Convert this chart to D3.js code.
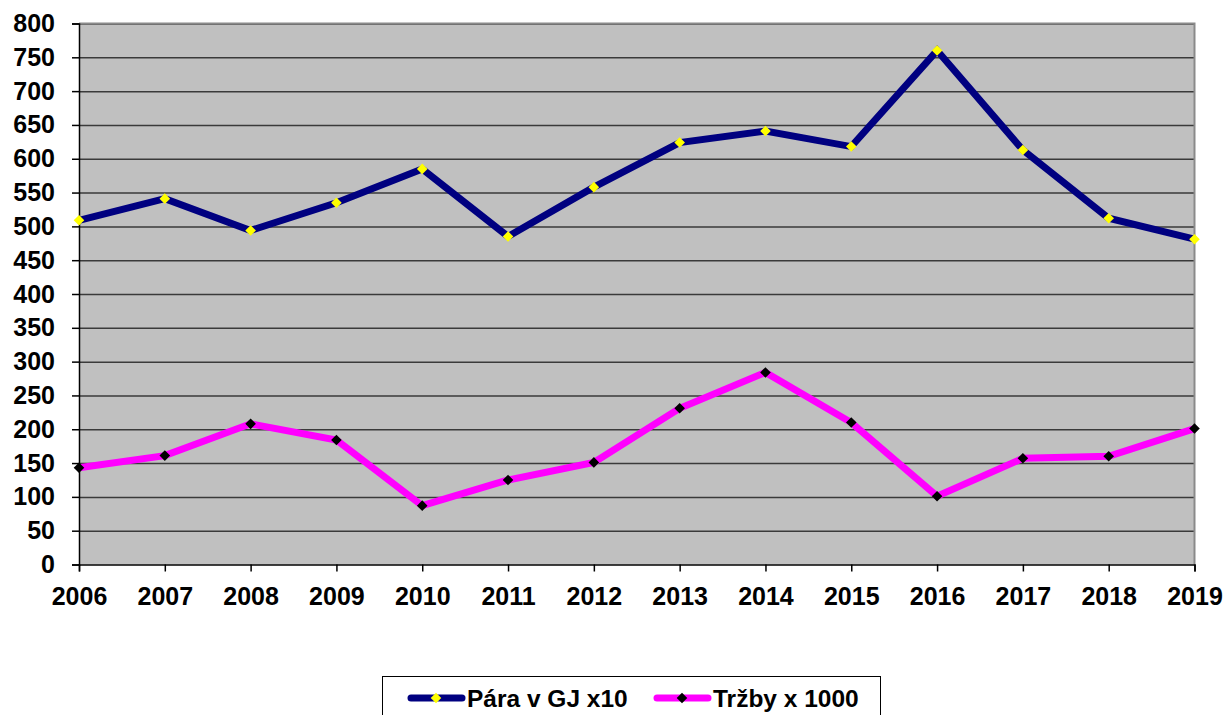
<!DOCTYPE html>
<html>
<head>
<meta charset="utf-8">
<style>
  body { margin: 0; background: #fff; }
  svg { display: block; font-family: "Liberation Sans", Arial, sans-serif; font-weight: bold; }
</style>
</head>
<body>
<svg width="1227" height="715"></svg>
<script src="https://d3js.org/d3.v7.min.js"></script>
<script>
var years = [2006, 2007, 2008, 2009, 2010, 2011, 2012, 2013, 2014, 2015, 2016, 2017, 2018, 2019];
var para = [509, 541, 494, 535, 585, 485, 558, 624, 641, 618, 760, 613, 512, 481];
var trzby = [143, 161, 208, 184, 87, 125, 151, 231, 284, 210, 101, 157, 160, 201];
var yTicks = d3.range(0, 801, 50);
var seriesNames = ["Pára v GJ x10", "Tržby x 1000"];

var svg = d3.select("svg"),
    margin = {top: 23.5, right: 32.5, bottom: 150.5, left: 79},
    width = +svg.attr("width") - margin.left - margin.right,
    height = +svg.attr("height") - margin.top - margin.bottom;

var x = d3.scaleLinear().domain([2006, 2019]).range([0, width]);
var y = d3.scaleLinear().domain([0, 800]).range([height, 0]);

var series = [
  {name: seriesNames[0], values: para, line: "#000080", marker: "#ffff00"},
  {name: seriesNames[1], values: trzby, line: "#ff00ff", marker: "#000000"}
];

var g = svg.append("g").attr("transform", "translate(" + margin.left + "," + margin.top + ")");

// plot background
g.append("rect")
    .attr("width", width)
    .attr("height", height)
    .attr("fill", "#c0c0c0");

// gridlines
g.append("g")
    .call(d3.axisLeft(y).tickValues(yTicks.slice(1)).tickSize(-width).tickFormat(""))
    .call(function(s) {
      s.select(".domain").remove();
      s.selectAll("line").attr("stroke", "#3a3a3a").attr("stroke-width", 1.5);
    });

// top and right border
g.append("path")
    .attr("d", "M0,0H" + width + "V" + height)
    .attr("fill", "none")
    .attr("stroke", "#8a8a8a")
    .attr("stroke-width", 2);

// y axis
g.append("g")
    .call(d3.axisLeft(y).tickValues(yTicks).tickSize(7).tickPadding(17))
    .call(function(s) {
      s.select(".domain").attr("stroke", "#000").attr("stroke-width", 1.5);
      s.selectAll("line").attr("stroke", "#000").attr("stroke-width", 1.5);
      s.selectAll("text").attr("font-size", 25).attr("font-weight", "bold")
        .attr("font-family", "Liberation Sans, Arial, sans-serif").attr("fill", "#000");
    });

// x axis
g.append("g")
    .attr("transform", "translate(0," + height + ")")
    .call(d3.axisBottom(x).tickValues(years).tickFormat(d3.format("d")).tickSize(7).tickPadding(16))
    .call(function(s) {
      s.select(".domain").attr("stroke", "#000").attr("stroke-width", 1.5);
      s.selectAll("line").attr("stroke", "#000").attr("stroke-width", 1.5);
      s.selectAll("text").attr("font-size", 25).attr("font-weight", "bold")
        .attr("font-family", "Liberation Sans, Arial, sans-serif").attr("fill", "#000");
    });

var line = d3.line()
    .x(function(d, i) { return x(years[i]); })
    .y(function(d) { return y(d); });

var diamond = d3.symbol().type(d3.symbolSquare).size(56);

series.forEach(function(s) {
  g.append("path")
      .datum(s.values)
      .attr("d", line)
      .attr("fill", "none")
      .attr("stroke", s.line)
      .attr("stroke-width", 7)
      .attr("stroke-linejoin", "miter");

  g.selectAll(null)
    .data(s.values)
    .enter().append("path")
      .attr("d", diamond)
      .attr("transform", function(d, i) { return "translate(" + x(years[i]) + "," + y(d) + ") rotate(45)"; })
      .attr("fill", s.marker);
});

// legend
var legend = svg.append("g");
legend.append("rect")
    .attr("x", 382.5)
    .attr("y", 676.5)
    .attr("width", 498)
    .attr("height", 60)
    .attr("fill", "#fff")
    .attr("stroke", "#000")
    .attr("stroke-width", 1);

var legendX = [408, 654];
series.forEach(function(s, i) {
  var lx = legendX[i], ly = 698;
  legend.append("line")
      .attr("x1", lx + 3).attr("x2", lx + 54)
      .attr("y1", ly).attr("y2", ly)
      .attr("stroke", s.line)
      .attr("stroke-width", 7)
      .attr("stroke-linecap", "round");
  legend.append("path")
      .attr("d", diamond)
      .attr("transform", "translate(" + (lx + 28) + "," + ly + ") rotate(45)")
      .attr("fill", s.marker);
  legend.append("text")
      .attr("x", lx + 59)
      .attr("y", ly + 9)
      .attr("font-size", 24.5)
      .attr("fill", "#000")
      .text(s.name);
});
</script>
</body>
</html>
